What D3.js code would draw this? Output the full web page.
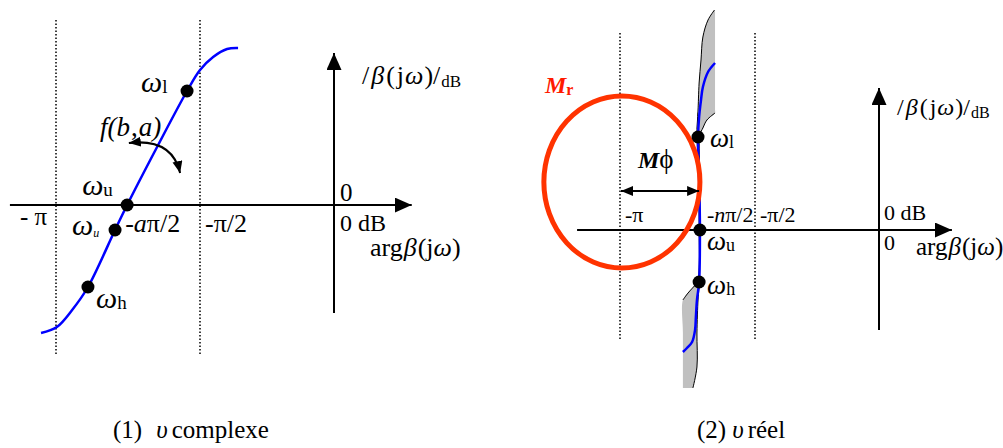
<!DOCTYPE html>
<html>
<head>
<meta charset="utf-8">
<script src="https://cdn.jsdelivr.net/npm/d3@7"></script>
<style>
  html, body { margin: 0; padding: 0; background: #fff; }
  svg { display: block; }
  svg text { font-family: "Liberation Serif", "Times New Roman", Times, serif; }
</style>
</head>
<body>
<svg id="chart" width="1003" height="448"></svg>
<script>
// phase is in units of pi, gain in arbitrary dB units (Black / Nichols plane)

// (1) complex order
var leftPhase = [-1.052, -0.997, -0.944, -0.889, -0.795, -0.753, -0.649, -0.545, -0.500, -0.451, -0.399, -0.358];
var leftGain  = [-1.28, -1.22, -1.05, -0.82, -0.25, 0.00, 0.58, 1.14, 1.35, 1.48, 1.56, 1.57];
var leftDotPhase = [-0.545, -0.753, -0.795, -0.889];   // wl, wu, wu (italic), wh
var leftDotGain  = [1.14, 0.00, -0.25, -0.82];
var leftTickLabels = ["- \u03c0", "-a\u03c0/2", "-\u03c0/2", "0 dB"];
var leftArrowPhase = [-0.747, -0.597, -0.569];           // f(b,a) rotation arrow
var leftArrowGain  = [0.62, 0.67, 0.32];

// (2) real order
var rightPhase = [-0.648, -0.674, -0.693, -0.700, -0.707, -0.711, -0.707, -0.704, -0.707, -0.715, -0.719, -0.722, -0.733, -0.752, -0.767];
var rightGain  = [1.67, 1.58, 1.43, 1.30, 1.13, 0.93, 0.50, 0.02, -0.52, -0.70, -0.87, -1.00, -1.12, -1.18, -1.22];
var rightDotPhase = [-0.711, -0.704, -0.707];            // wl, wu, wh
var rightDotGain  = [0.93, 0.00, -0.52];
var rightTickLabels = ["-\u03c0", "-n\u03c0/2", "-\u03c0/2", "0 dB"];
var bandGain  = [2.20, 2.10, 1.93, 1.70, 1.47, 1.20, 1.17, 1.10, 1.02, 0.95, 0.50, 0.02, -0.50, -0.55, -0.63, -0.70, -1.03, -1.37, -1.58];
var bandLeft  = [-0.650, -0.674, -0.693, -0.700, -0.707, -0.711, -0.712, -0.713, -0.715, -0.715, -0.709, -0.707, -0.711, -0.722, -0.748, -0.767, -0.767, -0.767, -0.767];
var bandRight = [-0.648, -0.648, -0.648, -0.648, -0.648, -0.648, -0.648, -0.678, -0.693, -0.704, -0.704, -0.704, -0.707, -0.707, -0.709, -0.711, -0.715, -0.715, -0.730];
var mrCenter = [-0.993, 0.48];
var mrRadius = [0.289, 0.86];
var marginPhase = [-1.0, -0.707];
var marginGain = 0.39;

var captions = ["(1)", "\u03c5", "complexe", "(2)", "\u03c5", "r\u00e9el"];

var svg = d3.select("#chart");
var blue = "#0000ff", red = "#ff3300";
var serif = "'Liberation Serif', 'Times New Roman', Times, serif";

//------------------------------------------------------------
// markers
var defs = svg.append("defs");
defs.append("marker").attr("id", "bigArrow")
    .attr("markerUnits", "userSpaceOnUse")
    .attr("markerWidth", 18).attr("markerHeight", 16)
    .attr("refX", 17).attr("refY", 7.5).attr("orient", "auto")
  .append("path").attr("d", "M0,0L17,7.5L0,15Z").attr("fill", "#000");
defs.append("marker").attr("id", "smallArrow")
    .attr("markerUnits", "userSpaceOnUse")
    .attr("markerWidth", 13).attr("markerHeight", 11)
    .attr("refX", 12).attr("refY", 5).attr("orient", "auto-start-reverse")
  .append("path").attr("d", "M0,0L12,5L0,10Z").attr("fill", "#000");

function addText(g, x, y, parts, size, fill) {
    var t = g.append("text").attr("x", x).attr("y", y)
        .attr("font-family", serif)
        .attr("font-size", size || 25).attr("fill", fill || "#000");
    parts.forEach(function (p) {
        var o = p[1] || {};
        var s = t.append("tspan").text(p[0]);
        if (o.i) s.attr("font-style", "italic");
        if (o.b) s.attr("font-weight", "bold");
        if (o.s) s.attr("font-size", o.s);
        if (o.dy) s.attr("dy", o.dy);
        if (o.dx) s.attr("dx", o.dx);
    });
    return t;
}

function omega(g, x, y, sub, size, subSize, subItalic) {
    return addText(g, x, y, [["\u03c9", {i: true, s: size}], [sub, {i: subItalic, s: subSize, dy: subItalic ? 2 : 1}]]);
}

function axes(g, x, y, hRange, vRange, dotted, dotRange) {
    dotted.forEach(function (p) {
        g.append("line")
            .attr("x1", x(p)).attr("x2", x(p))
            .attr("y1", y(dotRange[0])).attr("y2", y(dotRange[1]))
            .attr("stroke", "#000").attr("stroke-width", 1.5)
            .attr("stroke-dasharray", "1.5,2");
    });
    g.append("line")
        .attr("x1", x(hRange[0])).attr("x2", x(hRange[1]))
        .attr("y1", y(0)).attr("y2", y(0))
        .attr("stroke", "#000").attr("stroke-width", 2)
        .attr("marker-end", "url(#bigArrow)");
    g.append("line")
        .attr("x1", x(0)).attr("x2", x(0))
        .attr("y1", y(vRange[0])).attr("y2", y(vRange[1]))
        .attr("stroke", "#000").attr("stroke-width", 2)
        .attr("marker-end", "url(#bigArrow)");
}

function dots(g, x, y, ph, ga) {
    g.selectAll("circle.dot").data(ph).enter().append("circle")
        .attr("class", "dot")
        .attr("cx", function (d) { return x(d); })
        .attr("cy", function (d, i) { return y(ga[i]); })
        .attr("r", 6.5).attr("fill", "#000");
}

function argLabel(g, x, y, size) {
    addText(g, x, y, [["arg"], ["\u03b2", {i: true, dx: 1}], ["(j", {dx: 1}], ["\u03c9", {i: true}], [")"]], size);
}

function gainLabel(g, x, y, size, subSize) {
    addText(g, x, y, [["/"], ["\u03b2", {i: true, dx: 2}], ["(", {dx: 2}], ["j", {dx: 2}], ["\u03c9", {i: true, dx: 1}],
        [")/", {dx: 1}], ["dB", {s: subSize, dy: 3, dx: 1}]], size);
}

//------------------------------------------------------------
// panel 1
var xL = d3.scaleLinear().domain([-1, -0.5, 0]).range([56, 200, 334]);
var yL = d3.scaleLinear().domain([0, 1]).range([205, 105]);
var gL = svg.append("g");

axes(gL, xL, yL, [-1.16, 0.29], [-1.08, 1.52], [-1, -0.5], [1.85, -1.5]);

gL.append("path")
    .datum(d3.zip(leftPhase, leftGain))
    .attr("d", d3.line().x(function (d) { return xL(d[0]); }).y(function (d) { return yL(d[1]); })
        .curve(d3.curveCatmullRom.alpha(0.5)))
    .attr("fill", "none").attr("stroke", blue).attr("stroke-width", 2.5);

dots(gL, xL, yL, leftDotPhase, leftDotGain);

gL.append("path")
    .attr("d", "M" + xL(leftArrowPhase[0]) + "," + yL(leftArrowGain[0]) +
        "Q" + xL(leftArrowPhase[1]) + "," + yL(leftArrowGain[1]) +
        " " + xL(leftArrowPhase[2]) + "," + yL(leftArrowGain[2]))
    .attr("fill", "none").attr("stroke", "#000").attr("stroke-width", 2)
    .attr("marker-start", "url(#smallArrow)").attr("marker-end", "url(#smallArrow)");

// point labels
omega(gL, xL(leftDotPhase[0]) - 46, yL(leftDotGain[0]) + 1, "l", 30, 19);
omega(gL, xL(leftDotPhase[1]) - 45, yL(leftDotGain[1]) - 10, "u", 30, 19);
omega(gL, xL(leftDotPhase[2]) - 43, yL(leftDotGain[2]) + 5, "u", 30, 12, true);
omega(gL, xL(leftDotPhase[3]) + 8, yL(leftDotGain[3]) + 21, "h", 30, 19);
addText(gL, 100, yL(leftArrowGain[0]) - 7, [["f(b", {i: true}], [",", {dx: 1}], ["a)", {i: true, dx: 1}]], 27);

// phase labels
addText(gL, xL(-1) - 36, yL(0) + 20, [[leftTickLabels[0]]]);
addText(gL, xL(leftDotPhase[1]) - 2, yL(0) + 27, [["-"], ["a", {i: true}], [leftTickLabels[1].slice(2)]], 26);
addText(gL, xL(-0.5) + 5, yL(0) + 27, [[leftTickLabels[2]]], 26);
addText(gL, xL(0) + 6, yL(0) - 4, [["0"]]);
addText(gL, xL(0) + 6, yL(0) + 26, [[leftTickLabels[3]]], 24);
argLabel(gL, xL(0) + 36, yL(0) + 51, 26);
gainLabel(gL, xL(0) + 28, yL(1.21), 26, 17);

//------------------------------------------------------------
// panel 2
var xR = d3.scaleLinear().domain([-1, -0.5, 0]).range([620, 755, 879]);
var yR = d3.scaleLinear().domain([0, 1]).range([230, 130]);
var gR = svg.append("g");

var band = d3.zip(bandGain, bandLeft, bandRight);
var bandCurve = d3.curveCatmullRom.alpha(0.5);
gR.append("path")
    .datum(band)
    .attr("d", d3.area()
        .y(function (d) { return yR(d[0]); })
        .x0(function (d) { return xR(d[1]); })
        .x1(function (d) { return xR(d[2]); })
        .curve(bandCurve))
    .attr("fill", "#c0c0c0").attr("stroke", "none");
gR.append("path")
    .datum(band.slice(0, 16))
    .attr("d", d3.line().x(function (d) { return xR(d[1]); }).y(function (d) { return yR(d[0]); }).curve(bandCurve))
    .attr("fill", "none").attr("stroke", "#000").attr("stroke-width", 1);
gR.append("path")
    .datum(band.slice(6))
    .attr("d", d3.line().x(function (d) { return xR(d[2]); }).y(function (d) { return yR(d[0]); }).curve(bandCurve))
    .attr("fill", "none").attr("stroke", "#000").attr("stroke-width", 1);

axes(gR, xR, yR, [-1.159, 0.294], [-1.0, 1.42], [-1, -0.5], [1.97, -1.1]);

gR.append("path")
    .datum(d3.zip(rightPhase, rightGain))
    .attr("d", d3.line().x(function (d) { return xR(d[0]); }).y(function (d) { return yR(d[1]); })
        .curve(d3.curveCatmullRom.alpha(0.5)))
    .attr("fill", "none").attr("stroke", blue).attr("stroke-width", 2.5);

gR.append("ellipse")
    .attr("cx", xR(mrCenter[0])).attr("cy", yR(mrCenter[1]))
    .attr("rx", xR(mrCenter[0] + mrRadius[0]) - xR(mrCenter[0]))
    .attr("ry", yR(0) - yR(mrRadius[1]))
    .attr("fill", "none").attr("stroke", red).attr("stroke-width", 5);

dots(gR, xR, yR, rightDotPhase, rightDotGain);

gR.append("line")
    .attr("x1", xR(marginPhase[0]) + 1).attr("x2", xR(marginPhase[1]))
    .attr("y1", yR(marginGain)).attr("y2", yR(marginGain))
    .attr("stroke", "#000").attr("stroke-width", 2)
    .attr("marker-start", "url(#smallArrow)").attr("marker-end", "url(#smallArrow)");

addText(gR, xR(mrCenter[0]) - 77, yR(mrCenter[1] + mrRadius[1]) - 3,
    [["M", {i: true, b: true}], ["r", {b: true, s: 16, dy: 2}]], 24, "#ff1a00");
addText(gR, xR(marginPhase[0]) + 18, yR(marginGain) - 23,
    [["M", {i: true, b: true}], ["\u03d5", {s: 27}]], 24);

omega(gR, xR(rightDotPhase[0]) + 12, yR(rightDotGain[0]) + 10, "l", 27, 18);
omega(gR, xR(rightDotPhase[1]) + 7, yR(rightDotGain[1]) + 20, "u", 27, 18);
omega(gR, xR(rightDotPhase[2]) + 8, yR(rightDotGain[2]) + 12, "h", 27, 18);

addText(gR, xR(-1) + 5, yR(0) - 8, [[rightTickLabels[0]]], 22);
addText(gR, xR(rightDotPhase[1]) + 7, yR(0) - 8, [["-"], ["n", {i: true}], [rightTickLabels[1].slice(2)]], 22);
addText(gR, xR(-0.5) + 5, yR(0) - 8, [[rightTickLabels[2]]], 22);
addText(gR, xR(0) + 5, yR(0) - 10, [[rightTickLabels[3]]], 22);
addText(gR, xR(0) + 5, yR(0) + 20, [["0"]], 22);
argLabel(gR, xR(0) + 37, yR(0) + 25, 25);
gainLabel(gR, xR(0) + 18, yR(1.15), 24, 16);

//------------------------------------------------------------
// captions
addText(svg, 113, 438, [[captions[0]], [captions[1], {i: true, dx: 14}], [captions[2], {dx: 4}]], 25);
addText(svg, 697, 438, [[captions[3]], [captions[4], {i: true, dx: 6}], [captions[5], {dx: 4}]], 25);
</script>
</body>
</html>
